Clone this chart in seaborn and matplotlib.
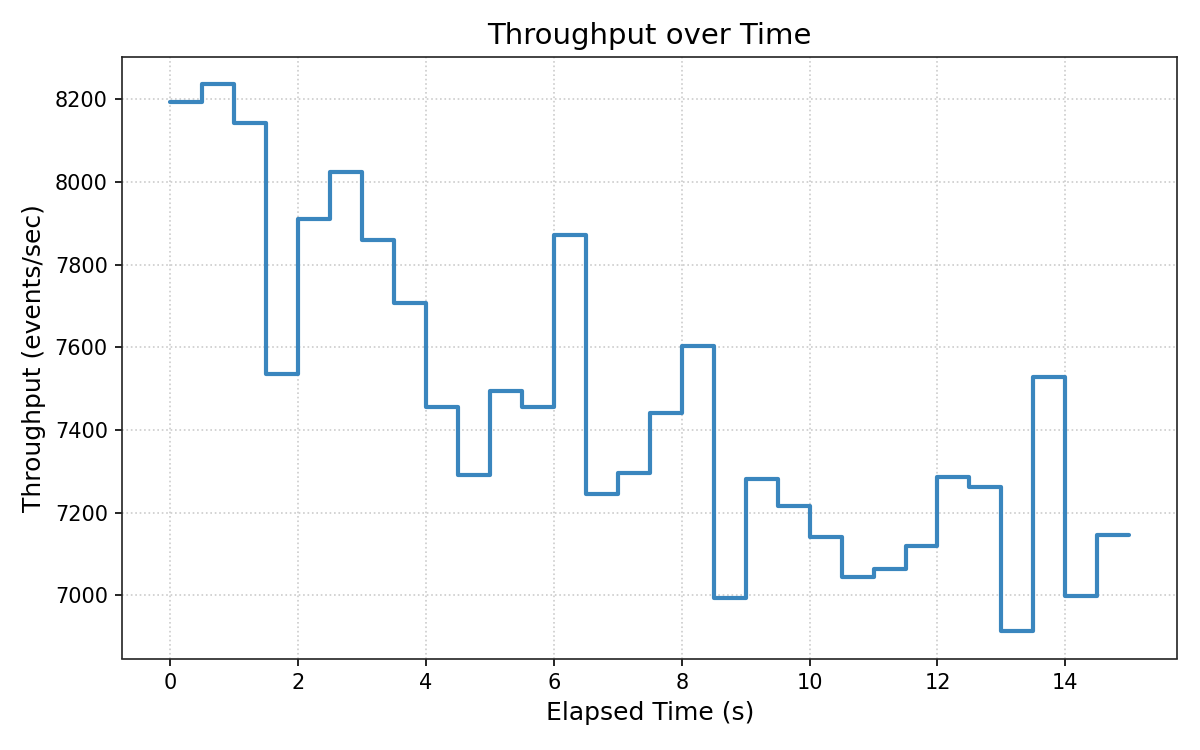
import matplotlib
matplotlib.use('Agg')
import matplotlib.pyplot as plt
import seaborn as sns
import pandas as pd

# 每 0.5 秒一个采样点
elapsed_s = [0.0, 0.5, 1.0, 1.5, 2.0, 2.5, 3.0, 3.5, 4.0, 4.5,
             5.0, 5.5, 6.0, 6.5, 7.0, 7.5, 8.0, 8.5, 9.0, 9.5,
             10.0, 10.5, 11.0, 11.5, 12.0, 12.5, 13.0, 13.5, 14.0, 14.5, 15.0]
throughput = [8193, 8236, 8143, 7534, 7910, 8024, 7859, 7707, 7456, 7290,
              7493, 7456, 7871, 7246, 7295, 7441, 7602, 6994, 7282, 7215,
              7142, 7044, 7063, 7118, 7287, 7261, 6913, 7527, 6998, 7145, 7145]

df = pd.DataFrame({'elapsed': elapsed_s, 'throughput': throughput})

sns.set_style('ticks')
plt.rcParams['font.family'] = ['DejaVu Sans']
plt.rcParams['text.color'] = 'black'
plt.rcParams['axes.labelcolor'] = 'black'
plt.rcParams['xtick.color'] = 'black'
plt.rcParams['ytick.color'] = 'black'

fig, ax = plt.subplots(figsize=(8, 5), dpi=150)
sns.lineplot(data=df, x='elapsed', y='throughput', ax=ax,
             drawstyle='steps-post', color='#3a86be', linewidth=2)

ax.grid(True, linestyle=':', color='#cccccc', linewidth=0.8)
ax.set_title('Throughput over Time', fontsize=14)
ax.set_xlabel('Elapsed Time (s)', fontsize=12)
ax.set_ylabel('Throughput (events/sec)', fontsize=12)
ax.tick_params(labelsize=10)
for s in ax.spines.values():
    s.set_color('#222222')

fig.subplots_adjust(left=0.102, right=0.981, top=0.924, bottom=0.122)
fig.savefig('out.png', dpi=150)
plt.close(fig)
